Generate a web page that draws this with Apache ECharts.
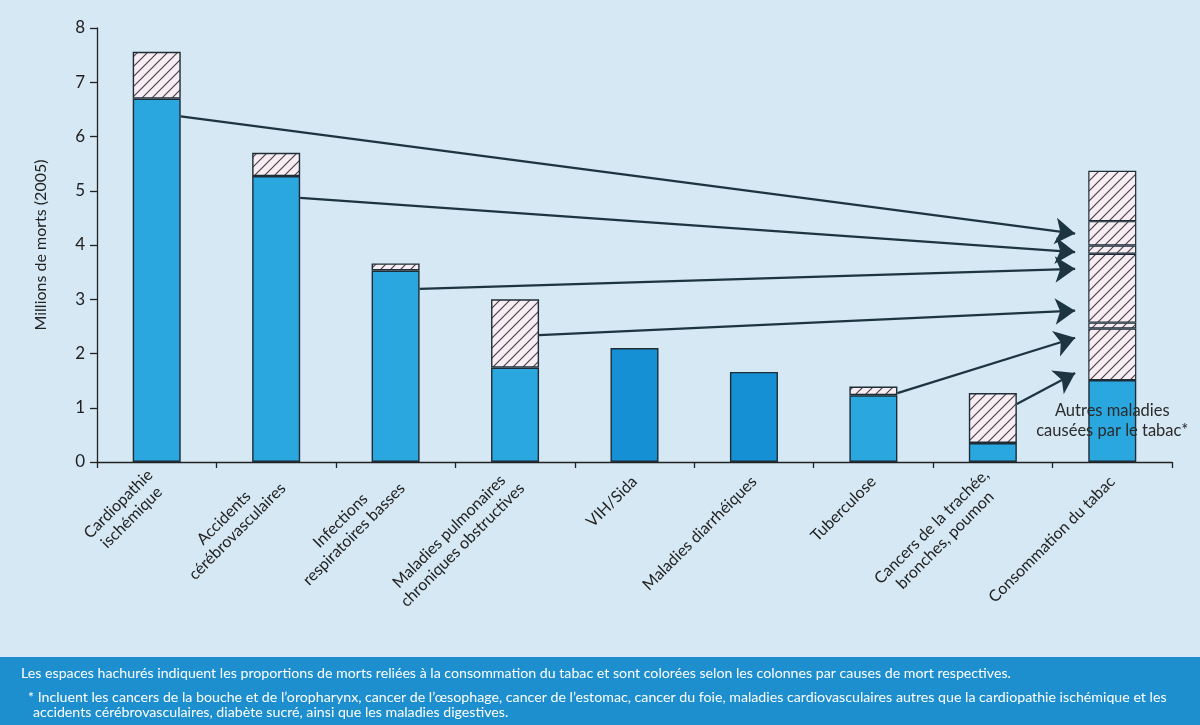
<!DOCTYPE html>
<html>
<head>
<meta charset="utf-8">
<script src="https://cdn.jsdelivr.net/npm/echarts@6/dist/echarts.min.js"></script>
<style>
html,body{margin:0;padding:0;background:#d5e8f4;}
#c{width:1200px;height:725px;}
</style>
</head>
<body>
<div id="c"></div>
<script>
// ---- data ----
const categories = [
  'Cardiopathie\nischémique',
  'Accidents\ncérébrovasculaires',
  'Infections\nrespiratoires basses',
  'Maladies pulmonaires\nchroniques obstructives',
  'VIH/Sida',
  'Maladies diarrhéiques',
  'Tuberculose',
  'Cancers de la trachée,\nbronches, poumon',
  'Consommation du tabac'
];
// plain (non-hatched) part of each column, millions of deaths
const partPleine = [6.70, 5.27, 3.53, 1.74, 2.10, 1.66, 1.23, 0.35, 1.51];
// hatched part (deaths related to tobacco) on top of columns 0..7
const partTabac = [0.86, 0.43, 0.13, 1.26, null, null, 0.16, 0.92];
// hatched segments stacked in the "Consommation du tabac" column, bottom to top
const segmentsTabac = [0.95, 0.11, 1.27, 0.15, 0.45, 0.93];
// darker coloured columns
const colonnesFoncees = [4, 5];
// arrows: source column, start value, value reached at the tobacco column
const flecheSource = [0, 1, 2, 3, 6, 7];
const flecheDepart = [6.37, 4.87, 3.19, 2.34, 1.27, 1.07];
const flecheArrivee = [4.21, 3.87, 3.56, 2.79, 2.29, 1.64];
const labelAutres = 'Autres maladies\ncausées par le tabac*';
const yAxisName = 'Millions de morts (2005)';
const noteLigne1 = 'Les espaces hachurés indiquent les proportions de morts reliées à la consommation du tabac et sont colorées selon les colonnes par causes de mort respectives.';
const noteLigne2 = '* Incluent les cancers de la bouche et de l\u2019oropharynx, cancer de l\u2019œsophage, cancer de l\u2019estomac, cancer du foie, maladies cardiovasculaires autres que la cardiopathie ischémique et les';
const noteLigne3 = 'accidents cérébrovasculaires, diabète sucré, ainsi que les maladies digestives.';

// ---- styles ----
const FONT = 'Lato, "Open Sans", sans-serif';
const BLUE = '#2ba7e0';
const BLUE_DARK = '#1590d4';
const BORDER = '#1e2c36';
const GRID_LEFT = 97, GRID_RIGHT = 28, GRID_TOP = 28, GRID_BOTTOM = 263;
const BAR_W = 48;
const catWidth = (1200 - GRID_LEFT - GRID_RIGHT) / categories.length;
const halfBar = (BAR_W / 2) / catWidth;

function hatch() {
  const s = 10;
  const cv = document.createElement('canvas');
  cv.width = s; cv.height = s;
  const g = cv.getContext('2d');
  g.fillStyle = '#f6eef2';
  g.fillRect(0, 0, s, s);
  g.strokeStyle = '#4f3e48';
  g.lineWidth = 1.2;
  g.beginPath();
  g.moveTo(0, s); g.lineTo(s, 0);
  g.moveTo(-s / 2, s / 2); g.lineTo(s / 2, -s / 2);
  g.moveTo(s / 2, s * 1.5); g.lineTo(s * 1.5, s / 2);
  g.stroke();
  return { image: cv, repeat: 'repeat' };
}
const HATCH = hatch();

const n = categories.length;
const baseData = partPleine.map((v, i) => {
  const item = {
    value: v,
    itemStyle: { color: colonnesFoncees.includes(i) ? BLUE_DARK : BLUE }
  };
  if (i === n - 1) {
    item.label = {
      show: true, position: 'inside', formatter: labelAutres,
      color: '#2b2b2b', fontSize: 16.5, lineHeight: 20, fontFamily: FONT
    };
  }
  return item;
});

const series = [
  {
    type: 'bar', stack: 's', barWidth: BAR_W, data: baseData,
    itemStyle: { borderColor: BORDER, borderWidth: 1.4 },
    emphasis: { disabled: true }
  },
  {
    type: 'bar', stack: 's', barWidth: BAR_W,
    data: partTabac.concat([null]).map(v => v == null ? '-' : v),
    itemStyle: { color: HATCH, borderColor: BORDER, borderWidth: 1.4 },
    emphasis: { disabled: true }
  }
];
segmentsTabac.forEach((v) => {
  const d = new Array(n).fill('-');
  d[n - 1] = v;
  series.push({
    type: 'bar', stack: 's', barWidth: BAR_W, data: d,
    itemStyle: { color: HATCH, borderColor: BORDER, borderWidth: 1.2 },
    emphasis: { disabled: true }
  });
});
const arrowTipX = (n - 1) + 0.5 - halfBar - 0.11;
series.push({
  type: 'lines',
  coordinateSystem: 'cartesian2d',
  xAxisIndex: 1, yAxisIndex: 0,
  symbol: ['none', 'arrow'],
  symbolSize: [14, 20],
  lineStyle: { color: '#1d3540', width: 2.3, opacity: 1, curveness: 0 },
  z: 5,
  data: flecheSource.map((c, k) => ({
    coords: [[c + 0.5 + halfBar, flecheDepart[k]], [arrowTipX, flecheArrivee[k]]]
  }))
});

const chart = echarts.init(document.getElementById('c'), null, { renderer: 'canvas' });
chart.setOption({
  backgroundColor: '#d5e8f4',
  animation: false,
  textStyle: { fontFamily: FONT },
  grid: { left: GRID_LEFT, right: GRID_RIGHT, top: GRID_TOP, bottom: GRID_BOTTOM },
  xAxis: [
    {
      type: 'category', data: categories,
      axisLine: { lineStyle: { color: '#222', width: 1.3 } },
      axisTick: { show: true, length: 6, lineStyle: { color: '#222', width: 1.3 } },
      axisLabel: {
        rotate: 45, margin: 17, interval: 0, color: '#222', fontSize: 16, fontFamily: FONT,
        formatter: (v) => v.split('\n').map(l => '{c|' + l + '}').join('\n'),
        rich: { c: { align: 'center', fontSize: 16, lineHeight: 19, color: '#222', fontFamily: FONT } }
      }
    },
    { type: 'value', min: 0, max: n, show: false }
  ],
  yAxis: {
    type: 'value', min: 0, max: 8, interval: 1,
    name: yAxisName, nameLocation: 'middle', nameGap: 48, nameRotate: 90,
    nameTextStyle: { fontSize: 16, color: '#222', fontFamily: FONT },
    axisLine: { show: true, lineStyle: { color: '#222', width: 1.3 } },
    axisTick: { show: true, length: 7, lineStyle: { color: '#222', width: 1.3 } },
    axisLabel: { fontSize: 17, color: '#222', margin: 12, fontFamily: FONT },
    splitLine: { show: false }
  },
  graphic: [
    { type: 'rect', left: 0, top: 657, shape: { width: 1200, height: 68 }, style: { fill: '#1d8fcf' }, z: -1 },
    { type: 'text', left: 21, top: 666, style: { text: noteLigne1, fill: '#fff', font: '14.2px ' + FONT } },
    { type: 'text', left: 28, top: 690, style: { text: noteLigne2, fill: '#fff', font: '14.2px ' + FONT } },
    { type: 'text', left: 33, top: 705, style: { text: noteLigne3, fill: '#fff', font: '14.2px ' + FONT } }
  ],
  series: series
});
</script>
</body>
</html>
